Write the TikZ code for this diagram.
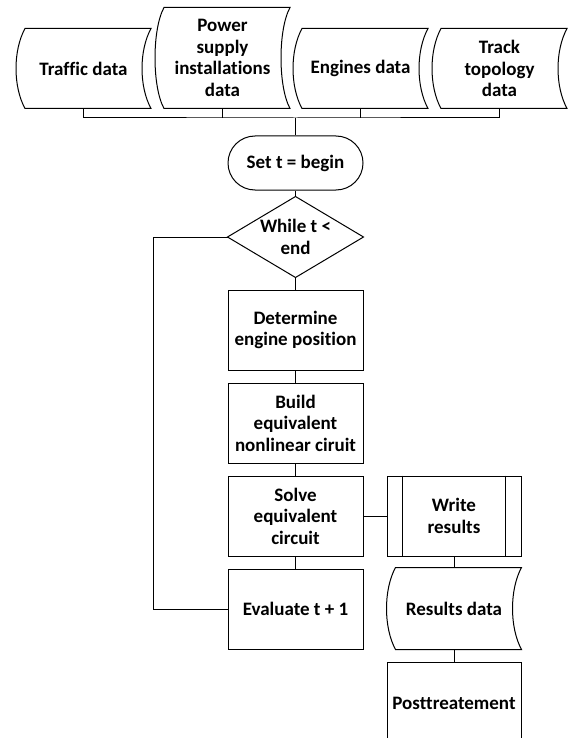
\documentclass[tikz,border=0pt]{standalone}
\usepackage{fontspec}
\setmainfont{Carlito}[Ligatures=NoCommon]
\usepackage{tikz}
\usetikzlibrary{positioning,calc}

\tikzset{
  box/.style={draw, minimum width=135, minimum height=80, inner sep=0pt, align=center},
  datanode/.style={minimum width=134, minimum height=79, inner sep=0pt, align=center},
  link/.style={line width=1pt}
}

\begin{document}
\begin{tikzpicture}[x=1pt,y=-1pt,line width=1pt,
    font=\fontsize{19}{21.5}\selectfont\bfseries]
  \clip (0,0) rectangle (573,738);
  \fill[white] (0,0) rectangle (573,738);

  \node[datanode] (traffic) at (83.5,68.5) {Traffic data};
  \node[datanode,minimum height=100] (power) at (222.5,58) {Power\\supply\\installations\\data};
  \node[datanode] (engines) at (360.5,68.5) {Engines data};
  \node[datanode] (track) at (499.5,68.5) {Track\\topology\\data};

  \node[box,rounded corners=27pt,minimum height=54] (setbegin) at (295.5,163) {Set t = begin};
  \node[minimum width=135,minimum height=80,inner sep=0pt,align=center] (while) at (295.5,237) {While t <\\end};
  \node[box] (determine) at (295.5,330) {Determine\\engine position};
  \node[box] (build) at (295.5,423) {Build\\equivalent\\nonlinear ciruit};
  \node[box] (solve) at (295.5,516) {Solve\\equivalent\\circuit};
  \node[box] (evaluate) at (295.5,609) {Evaluate t + 1};

  \node[box,minimum width=134] (write) at (454,516) {Write\\results};
  \node[datanode,minimum height=81] (results) at (454,608.5) {Results data};
  \node[box,minimum width=134,minimum height=82] (post) at (454,703) {Posttreatement};

  \foreach \n in {traffic,power,engines,track,results}
    \draw ([xshift=9pt]\n.north west) -- (\n.north east)
      .. controls ([xshift=-12pt,yshift=-22pt]\n.north east) and ([xshift=-12pt,yshift=22pt]\n.south east) .. (\n.south east)
      -- ([xshift=9pt]\n.south west)
      .. controls ([xshift=-3pt,yshift=22pt]\n.south west) and ([xshift=-3pt,yshift=-22pt]\n.north west) .. cycle;

  \draw (while.north) -- (while.east) -- (while.south) -- (while.west) -- cycle;
  \draw ([xshift=16pt]write.north west) -- ([xshift=16pt]write.south west);
  \draw ([xshift=-16pt]write.north east) -- ([xshift=-16pt]write.south east);

  \coordinate (bus) at (295.5,118);
  \coordinate (back) at (153,609);
  \draw (traffic.south) |- (bus) -| (track.south);
  \draw (power.south) -- (power.south |- bus);
  \draw (engines.south) -- (engines.south |- bus);
  \draw[line width=1.6pt] (bus) -- (setbegin.north);
  \draw (setbegin.south) -- (while.north);
  \draw (while.south) -- (determine.north);
  \draw (determine.south) -- (build.north);
  \draw (build.south) -- (solve.north);
  \draw (solve.south) -- (evaluate.north);
  \draw (while.west) -| (back) -- (evaluate.west);
  \draw (solve.east) -- (write.west);
  \draw (write.south) -- (results.north);
  \draw (results.south) -- (post.north);
\end{tikzpicture}
\end{document}
